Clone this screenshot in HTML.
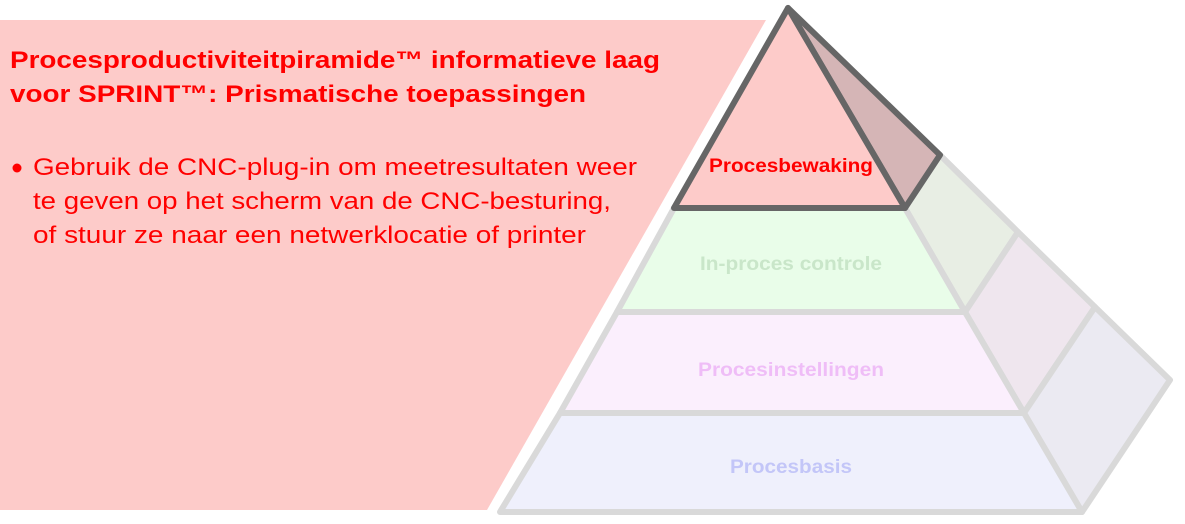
<!DOCTYPE html>
<html><head><meta charset="utf-8"><style>
html,body{margin:0;padding:0;background:#fff;}
svg{display:block;font-family:"Liberation Sans",Arial,sans-serif;}
</style></head><body>
<svg width="1185" height="524" viewBox="0 0 1185 524" xmlns="http://www.w3.org/2000/svg">
<polygon points="0,20 766,20 487,510 0,510" fill="#fdcbc9"/>
<text x="10" y="68" font-size="24" font-weight="bold" fill="#f00" textLength="650" lengthAdjust="spacingAndGlyphs">Procesproductiviteitpiramide™ informatieve laag</text>
<text x="10" y="102" font-size="24" font-weight="bold" fill="#f00" textLength="576" lengthAdjust="spacingAndGlyphs">voor SPRINT™: Prismatische toepassingen</text>
<circle cx="17" cy="168" r="4.5" fill="#f00"/>
<text x="33" y="175" font-size="24" fill="#f00" textLength="604" lengthAdjust="spacingAndGlyphs">Gebruik de CNC-plug-in om meetresultaten weer</text>
<text x="33" y="209" font-size="24" fill="#f00" textLength="578" lengthAdjust="spacingAndGlyphs">te geven op het scherm van de CNC-besturing,</text>
<text x="33" y="243" font-size="24" fill="#f00" textLength="553" lengthAdjust="spacingAndGlyphs">of stuur ze naar een netwerklocatie of printer</text>
<!-- right face -->
<polygon points="905,208 940,155 1018,232 965,312" fill="#e8eee4" stroke="#d9d9d9" stroke-width="6" stroke-linejoin="round"/>
<polygon points="965,312 1018,232 1095,307 1024,413" fill="#efe6ee" stroke="#d9d9d9" stroke-width="6" stroke-linejoin="round"/>
<polygon points="1024,413 1095,307 1170,380 1082,512" fill="#ebeaf2" stroke="#d9d9d9" stroke-width="6" stroke-linejoin="round"/>
<!-- front layers -->
<polygon points="674,208 905,208 965,312 617,312" fill="#e9fde9" stroke="#d9d9d9" stroke-width="6" stroke-linejoin="round"/>
<polygon points="617,312 965,312 1024,413 560,413" fill="#fbeffd" stroke="#d9d9d9" stroke-width="6" stroke-linejoin="round"/>
<polygon points="560,413 1024,413 1082,512 500,512" fill="#eff0fc" stroke="#d9d9d9" stroke-width="6" stroke-linejoin="round"/>
<!-- top -->
<polygon points="788,8 940,155 905,208" fill="#d5b5b6" stroke="#666" stroke-width="6" stroke-linejoin="round"/>
<polygon points="788,8 905,208 674,208" fill="#fdcbc9" stroke="#666" stroke-width="6" stroke-linejoin="round"/>
<text x="709" y="172" font-size="19" font-weight="bold" fill="#f00" textLength="164" lengthAdjust="spacingAndGlyphs">Procesbewaking</text>
<text x="700" y="270" font-size="19" font-weight="bold" fill="#c9e6c9" textLength="182" lengthAdjust="spacingAndGlyphs">In-proces controle</text>
<text x="698" y="376" font-size="19" font-weight="bold" fill="#efbdf7" textLength="186" lengthAdjust="spacingAndGlyphs">Procesinstellingen</text>
<text x="730" y="473" font-size="19" font-weight="bold" fill="#c3c6f8" textLength="122" lengthAdjust="spacingAndGlyphs">Procesbasis</text>
</svg>
</body></html>
